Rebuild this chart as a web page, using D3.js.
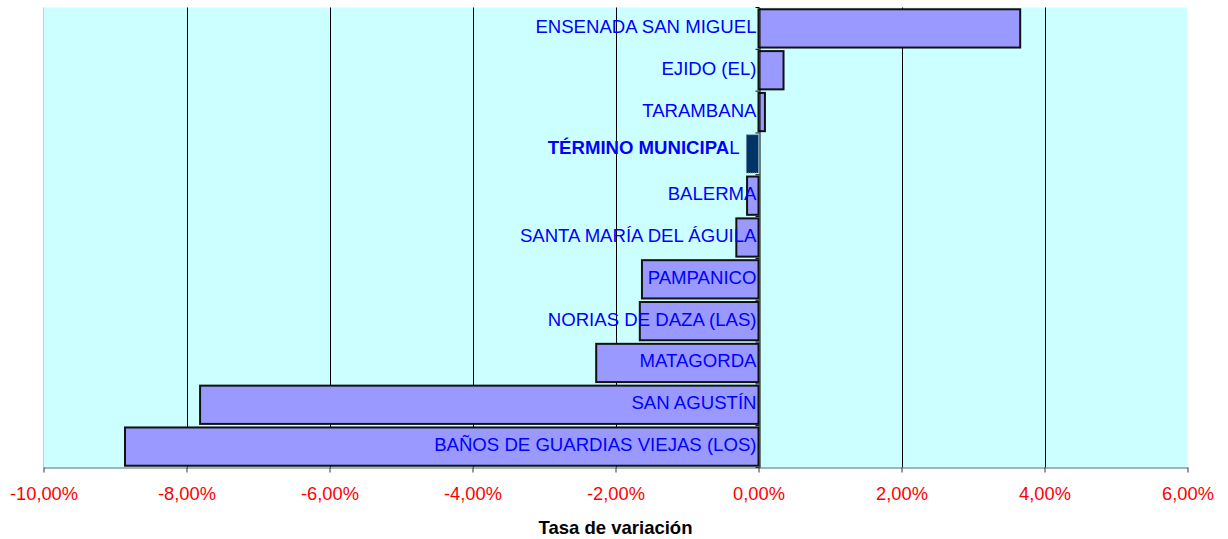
<!DOCTYPE html>
<html>
<head>
<meta charset="utf-8">
<script src="https://cdn.jsdelivr.net/npm/d3@7"></script>
<style>
  html, body { margin: 0; padding: 0; background: #ffffff; }
  svg { display: block; }
  text { font-family: "Liberation Sans", Arial, sans-serif; }
</style>
</head>
<body>
<svg id="chart" width="1228" height="539"></svg>
<script>
// ---- data ----
const categories = [
  "ENSENADA SAN MIGUEL",
  "EJIDO (EL)",
  "TARAMBANA",
  "TÉRMINO MUNICIPAL",
  "BALERMA",
  "SANTA MARÍA DEL ÁGUILA",
  "PAMPANICO",
  "NORIAS DE DAZA (LAS)",
  "MATAGORDA",
  "SAN AGUSTÍN",
  "BAÑOS DE GUARDIAS VIEJAS (LOS)"
];
const values = [3.66, 0.35, 0.09, -0.17, -0.16, -0.31, -1.63, -1.66, -2.27, -7.81, -8.86];
const highlight = "TÉRMINO MUNICIPAL";
const tickValues = [-10, -8, -6, -4, -2, 0, 2, 4, 6];
const xTitle = "Tasa de variación";

// ---- layout ----
const svg = d3.select("#chart");
const pLeft = 43.5, pRight = 1187.5, pTop = 7.5, pBottom = 467.5;

const x = d3.scaleLinear().domain([-10, 6]).range([pLeft, pRight]);
const y = d3.scaleBand().domain(categories).range([pTop, pBottom])
  .paddingInner(0.085).paddingOuter(0.0425);

const fmt = v => d3.format(".2f")(v).replace(".", ",").replace("\u2212", "-") + "%";

// plot background
svg.append("rect")
  .attr("x", pLeft).attr("y", pTop)
  .attr("width", pRight - pLeft).attr("height", pBottom - pTop)
  .attr("fill", "#ccffff");

// left edge of plot area
svg.append("line")
  .attr("x1", pLeft).attr("x2", pLeft).attr("y1", pTop).attr("y2", pBottom)
  .attr("stroke", "#9fdede").attr("stroke-width", 1);

// gridlines
svg.append("g").selectAll("line")
  .data(tickValues.filter(t => t !== 0 && t !== -10 && t !== 6))
  .join("line")
  .attr("x1", d => Math.round(x(d)) + 0.5).attr("x2", d => Math.round(x(d)) + 0.5)
  .attr("y1", pTop).attr("y2", pBottom)
  .attr("stroke", "#000").attr("stroke-width", 1);

// bars
const data = categories.map((c, i) => ({ c, v: values[i] }));
svg.append("g").selectAll("rect")
  .data(data)
  .join("rect")
  .attr("x", d => x(Math.min(0, d.v)))
  .attr("y", d => y(d.c))
  .attr("width", d => Math.abs(x(d.v) - x(0)))
  .attr("height", y.bandwidth())
  .attr("fill", d => d.c === highlight ? "#003366" : "#9999ff")
  .attr("stroke", d => d.c === highlight ? "#8899aa" : "#111")
  .attr("stroke-width", d => d.c === highlight ? 1 : 2)
  .attr("stroke-dasharray", d => d.c === highlight ? "1,1" : null);

// category axis at zero
const yAxis = d3.axisLeft(y).tickSize(0).tickFormat("");
const gy = svg.append("g").attr("transform", `translate(${Math.round(x(0)) + 0.5},0)`).call(yAxis);
gy.select(".domain").attr("stroke", "#000");
// ticks at band boundaries
const boundaries = categories.map(c => y(c) - y.step() * y.paddingInner() / 2).concat([pBottom]);
gy.append("g").selectAll("line").data(boundaries).join("line")
  .attr("x1", -4).attr("x2", 0)
  .attr("y1", d => d).attr("y2", d => d)
  .attr("stroke", "#000");

// x axis
const xAxis = d3.axisBottom(x).tickValues(tickValues).tickSize(5).tickSizeOuter(0).tickFormat(fmt);
const gx = svg.append("g").attr("transform", `translate(0,${pBottom})`).call(xAxis);
gx.select(".domain").attr("stroke", "#556b6b");
gx.selectAll(".tick line").attr("stroke", "#333");
gx.selectAll(".tick text")
  .attr("fill", "#ff0000")
  .attr("font-size", "18.3px")
  .attr("font-family", "Liberation Sans, Arial, sans-serif")
  .attr("y", 0).attr("dy", null)
  .attr("transform", "translate(0,32.5)");

// category labels
const lbl = svg.append("g").selectAll("text")
  .data(data)
  .join("text")
  .attr("x", d => x(0) - (d.c === highlight ? 19 : 2))
  .attr("y", d => y(d.c) + y.bandwidth() / 2 + (d.c === highlight ? 0 : 4.5))
  .attr("text-anchor", "end")
  .attr("fill", "#0000ff")
  .attr("font-size", "18.6px");
lbl.each(function(d) {
  const t = d3.select(this);
  if (d.c === highlight) {
    t.append("tspan").attr("font-weight", "bold").text(d.c.slice(0, -1));
    t.append("tspan").text(d.c.slice(-1));
  } else {
    t.text(d.c);
  }
});

// x title
svg.append("text")
  .attr("x", (pLeft + pRight) / 2).attr("y", 534)
  .attr("text-anchor", "middle")
  .attr("font-size", "18.5px").attr("font-weight", "bold")
  .attr("fill", "#000")
  .text(xTitle);
</script>
</body>
</html>
